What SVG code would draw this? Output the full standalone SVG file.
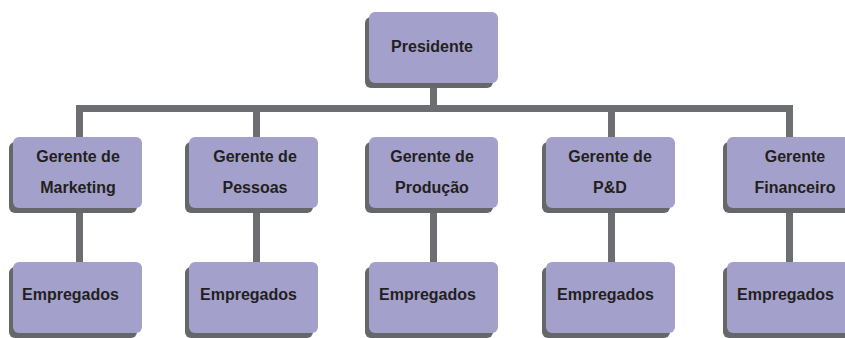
<svg xmlns="http://www.w3.org/2000/svg" width="845" height="338" viewBox="0 0 845 338">
<style>
.box{fill:#a3a1cb;}
.sh{fill:#66676b;}
.t{font-family:"Liberation Sans",Arial,sans-serif;font-weight:bold;font-size:16px;fill:#231f20;}
.c{text-anchor:middle;}
.ln{stroke:#6d6e72;stroke-width:7;fill:none;}
</style>
<defs>
<g id="b"><rect class="sh" x="-4" y="5" width="128" height="71" rx="6"/><rect class="box" x="0" y="0" width="129" height="71" rx="6"/></g>
</defs>
<g id="connectors">
<path class="ln" d="M433.5 83V108.5M79.5 137V108.5H789.5V137M256.5 108.5V137M611.5 108.5V137"/>
<path class="ln" d="M79.5 208V262M256.5 208V262M433.5 208V262M611.5 208V262M789.5 208V262"/>
</g>
<g id="presidente"><use href="#b" x="369" y="12"/><text class="t c" x="432" y="52">Presidente</text></g>
<g id="g-marketing"><use href="#b" x="13" y="137"/><text class="t c" x="78" y="162">Gerente de</text><text class="t c" x="78" y="193">Marketing</text></g>
<g id="g-pessoas"><use href="#b" x="189" y="137"/><text class="t c" x="255" y="162">Gerente de</text><text class="t c" x="255" y="193">Pessoas</text></g>
<g id="g-producao"><use href="#b" x="369" y="137"/><text class="t c" x="432" y="162">Gerente de</text><text class="t c" x="432" y="193">Produção</text></g>
<g id="g-pd"><use href="#b" x="546" y="137"/><text class="t c" x="610" y="162">Gerente de</text><text class="t c" x="610" y="193">P&amp;D</text></g>
<g id="g-financeiro"><use href="#b" x="727" y="137"/><text class="t c" x="795" y="162">Gerente</text><text class="t c" x="795" y="193">Financeiro</text></g>
<g id="e1"><use href="#b" x="13" y="262"/><text class="t" x="22" y="300">Empregados</text></g>
<g id="e2"><use href="#b" x="189" y="262"/><text class="t" x="200" y="300">Empregados</text></g>
<g id="e3"><use href="#b" x="369" y="262"/><text class="t" x="379" y="300">Empregados</text></g>
<g id="e4"><use href="#b" x="546" y="262"/><text class="t" x="557" y="300">Empregados</text></g>
<g id="e5"><use href="#b" x="727" y="262"/><text class="t" x="737" y="300">Empregados</text></g>
</svg>
